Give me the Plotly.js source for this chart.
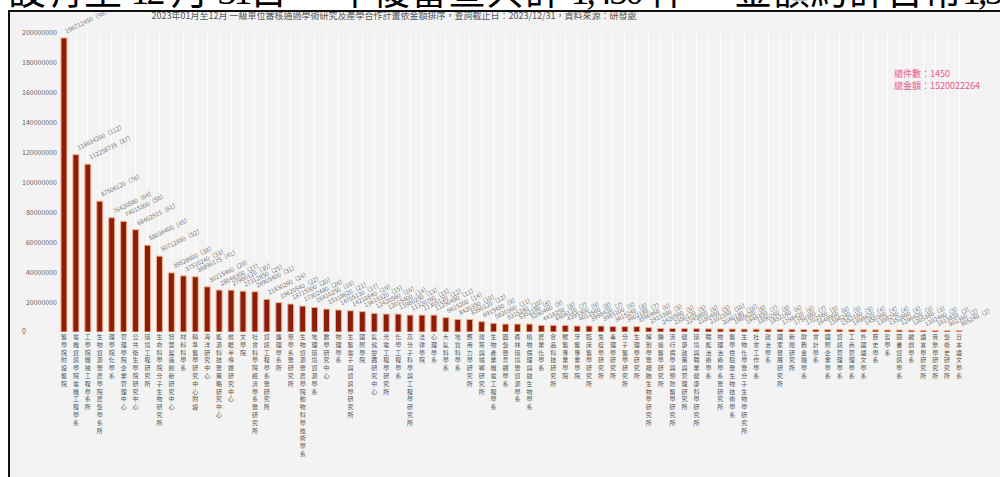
<!DOCTYPE html>
<html><head><meta charset="utf-8">
<script src="https://cdn.plot.ly/plotly-3.0.1.min.js"></script>
<style>
html,body{margin:0;padding:0;background:#fff;width:1000px;height:477px;overflow:hidden;position:relative;}
#headbox{position:absolute;left:0;top:0;width:1000px;height:10px;overflow:hidden;z-index:1;}
#head{position:absolute;left:8px;top:-31px;font-family:"Noto Sans CJK TC";font-size:38px;line-height:38px;white-space:pre;color:#000;}
#head .n{font-family:"Liberation Serif";letter-spacing:-3px;}
#frame{position:absolute;left:8px;top:10px;width:992px;height:467px;border-left:2px solid #111;border-top:2px solid #111;background:#f3f3f3;box-sizing:border-box;z-index:2;}
#chart{position:absolute;left:10px;top:12px;width:990px;height:465px;z-index:3;}
</style></head>
<body>
<div id="headbox"><div id="head">設有至 <span class="n">12</span> 月 <span class="n">31</span>日 一年複審查共計 <span class="n">1,450</span> 件， 金額約計台幣<span class="n">1,520,022,264</span> 元</div></div>
<div id="frame"></div>
<div id="chart"></div>
<script>
const chartTitle = "2023年01月至12月 一級單位審核通過學術研究及產學合作計畫依金額排序，查詢截止日：2023/12/31，資料來源：研發處";
const totalText = "總件數：1450<br>總金額：1520022264";

const units = [
"醫學院附設醫院","電機資訊學院電機工程學系","工學院機械工程學系所","生物資源暨農學院農藝學系所","理學院化學系",
"管理學院企業管理中心","公共衛生學院研究中心","環境工程研究所","生命科學院分子生物研究所","智慧製造創新研究中心",
"材料科學系","精準醫學研究中心附設","海洋研究中心","能源科技暨策略研究中心","前瞻半導體研究中心",
"文學院","社會科學院經濟學系暨研究所","資訊工程學系暨研究所","護理學系所","藥學系暨研究所",
"生物資源暨農學院動物科學技術學系","地理環境資源學系","數學研究中心","物理學系","生醫電子與資訊學研究所",
"國際學院","氣候變遷研究中心","光電工程學研究所","化學工程學系","高分子科學與工程學研究所",
"法律學院","心理學系","大氣科學系","地質科學系","應用力學研究所",
"建築與城鄉研究所","生物產業機電工程學系","園藝暨景觀學系","森林環境暨資源學系","植物病理與微生物學系",
"農業化學系","食品科技研究所","獸醫專業學院","牙醫專業學院","臨床醫學研究所",
"免疫學研究所","毒理學研究所","分子醫學研究所","生理學研究所","解剖學暨細胞生物學研究所",
"腫瘤醫學研究所","流行病學與預防醫學研究所","健康政策與管理研究所","環境與職業健康科學研究所","職能治療學系",
"物理治療學系暨研究所","醫學檢驗暨生物技術學系","生物化學暨分子生物學研究所","社會工作學系","政治學系",
"國家發展研究所","新聞研究所","財務金融學系","會計學系","國際企業學系",
"資訊管理學系","工商管理學系","外國語文學系","歷史學系","哲學系",
"圖書資訊學系","戲劇學系","語言學研究所","音樂學研究所","藝術史研究所","日本語文學系"
];

const amounts = [
196712450,118634200,112258735,87506120,76420580,74015300,68402915,58036400,50712880,39528600,
37510240,36890175,30215460,28046300,27980120,27312850,26905400,21830260,19620540,18715300,
17302480,16410250,15318620,14705130,14210840,13615320,12420560,12015400,11980250,11320760,
11305120,11290480,9615200,8420350,8390120,6915480,5820360,5315240,5302180,5290460,
4418250,4406120,4395300,4012560,3998420,3985100,3615240,3602180,3590460,2915380,
2420560,2350120,2245800,2180460,2102350,2040180,1995620,1948350,1890240,1852160,
1798420,1750380,1702560,1648900,1596240,1552180,1498620,1450360,1398240,1352860,
1296420,1205380,1102460,1015820,902360,805240
];

const counts = [
98,112,87,76,64,58,61,45,52,38,33,41,29,27,30,25,31,24,22,20,26,18,21,17,19,15,16,
14,13,15,12,11,14,10,12,9,11,10,8,9,8,7,9,8,7,6,8,7,6,5,6,5,6,5,
10,10,8,7,8,6,6,7,5,6,5,5,4,4,4,4,3,3,3,3,2,2
];

const yTickVals = [0,20000000,40000000,60000000,80000000,100000000,120000000,140000000,160000000,180000000,200000000];
const yTickText = ["0\u2007\u2007\u2007\u2007\u2007\u2007\u2007\u2007","20000000","40000000","60000000","80000000","100000000","120000000","140000000","160000000","180000000","200000000"];

const cjk = '"Noto Sans CJK TC", "Noto Sans", sans-serif';

const trace = {
  type: 'bar',
  x: units,
  y: amounts,
  marker: {color: '#8c1d0b', line: {color: '#f2b08a', width: 1}},
  hoverinfo: 'x+y'
};

const labelAnns = units.map((u, i) => ({
  x: u, y: amounts[i], xref: 'x', yref: 'y',
  text: amounts[i] + '（' + counts[i] + '）',
  showarrow: false, textangle: -26,
  xanchor: 'left', yanchor: 'bottom', xshift: -3, yshift: 0,
  font: {family: cjk, size: 6, color: '#777'}
}));

labelAnns.push({
  x: 0.92, y: 0.843, xref: 'paper', yref: 'paper',
  text: totalText, showarrow: false, align: 'left',
  xanchor: 'left', yanchor: 'middle',
  font: {family: cjk, size: 9, color: '#e9578a'}
});

const layout = {
  width: 990, height: 465,
  margin: {l: 48, r: 35, t: 21, b: 145, pad: 0},
  paper_bgcolor: 'rgba(0,0,0,0)',
  plot_bgcolor: '#f3f3f3',
  title: {text: chartTitle, font: {family: cjk, size: 9, color: '#555'},
          x: 0.388, xref: 'container', xanchor: 'center', y: 0.992, yref: 'container', yanchor: 'middle'},
  showlegend: false,
  bargap: 0.5,
  xaxis: {
    type: 'category',
    tickmode: 'array', tickvals: units, ticktext: units.map(s => s.split('').join('<br>')),
    tickangle: 0, ticks: '', showline: false, zeroline: false,
    showgrid: true, gridcolor: '#fdfdfd', gridwidth: 1,
    tickfont: {family: cjk, size: 6, color: '#555'},
    range: [-0.5, units.length - 0.5]
  },
  yaxis: {
    range: [0, 200000000], tickmode: 'array', tickvals: yTickVals, ticktext: yTickText,
    showgrid: false, zeroline: false, showline: false, ticks: '',
    tickfont: {family: cjk, size: 7, color: '#666'}
  },
  annotations: labelAnns,
  font: {family: cjk}
};

Plotly.newPlot('chart', [trace], layout, {displayModeBar: false, staticPlot: true});
</script>
</body></html>
